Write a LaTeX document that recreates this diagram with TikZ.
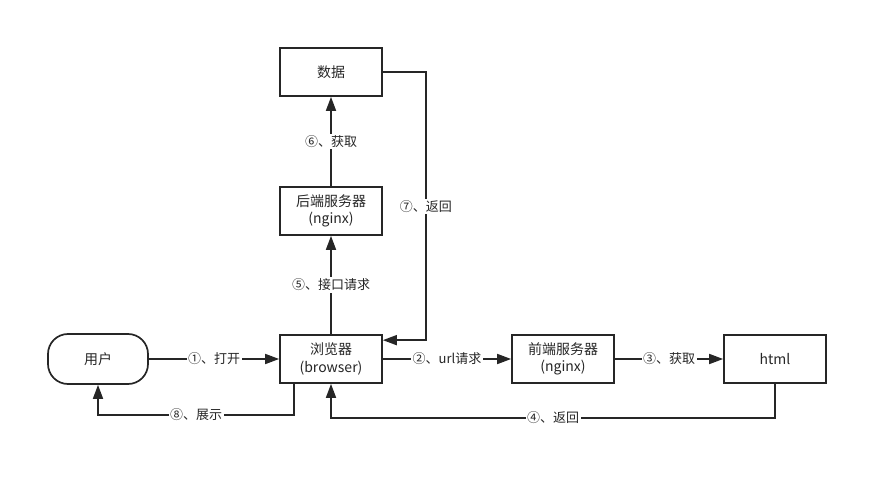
\documentclass[tikz,border=0pt]{standalone}
\usepackage{fontspec}
\newfontfamily\cjk{Noto Sans CJK SC}
\usetikzlibrary{arrows.meta, calc}

\begin{document}
\begin{tikzpicture}[x=1pt, y=-1pt, >={Triangle[length=14pt, width=10pt]}, line width=1.7pt, color=black!85,
    box/.style={draw, minimum width=102pt, minimum height=48pt, align=center, inner sep=0pt, font=\cjk\fontsize{14}{17.5}\selectfont},
    lbl/.style={fill=white, inner sep=1.5pt, font=\cjk\fontsize{13}{15}\selectfont}]

            \useasboundingbox (0,0) rectangle (888,478);

            \node[box, rounded corners=20pt, minimum width=100pt, minimum height=50pt] (user) at (98,359) {用户};
            \node[box] (browser) at (331,359) {浏览器\\(browser)};
            \node[box] (front) at (563,359) {前端服务器\\(nginx)};
            \node[box] (html) at (775,359) {html};

            \node[box] (back) at (331,211) {后端服务器\\(nginx)};
            \node[box] (data) at (331,72) {数据};

            % Connections: front-end request
            \draw[->] (user) -- (browser) node[lbl, midway] {①、打开};
            \draw[->] (browser) -- (front) node[lbl, midway] {②、url请求};
            \draw[->] (front) -- (html) node[lbl, midway] {③、获取};
            \draw[->] (html.south) -- ++(0,34) -| (browser.south) node[lbl, pos=0.25] {④、返回};

            % Connections: back-end request
            \draw[->] (browser) -- (back) node[lbl, midway] {⑤、接口请求};
            \draw[->] (back) -- (data) node[lbl, midway] {⑥、获取};
            \draw[->] (data.east) -- ++(43,0) |- ([yshift=-6pt]browser.north east) node[lbl, pos=0.25] {⑦、返回};

            \draw[->] ([xshift=15pt]browser.south west) -- ++(0,31) -| (user.south) node[lbl, pos=0.25] {⑧、展示};

        \end{tikzpicture}
\end{document}
